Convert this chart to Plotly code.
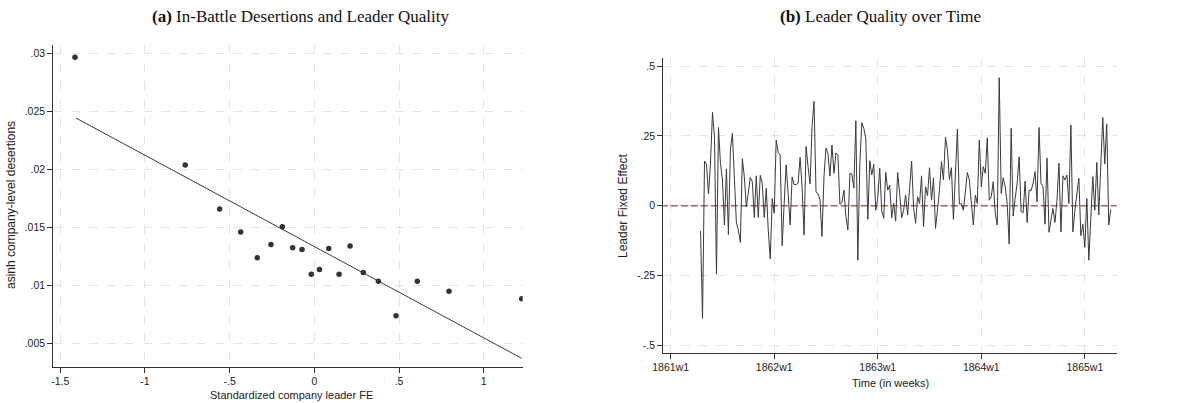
import plotly.graph_objects as go

# ---- Panel (a) data ----
fe_x = [-1.413, -0.762, -0.559, -0.435, -0.337, -0.256, -0.189, -0.128, -0.073, -0.018,
        0.030, 0.085, 0.146, 0.211, 0.289, 0.378, 0.482, 0.608, 0.795, 1.224]
desert_y = [0.02966, 0.02038, 0.0166, 0.01462, 0.0124, 0.01355, 0.01507, 0.01327, 0.01312, 0.01097,
            0.0114, 0.0132, 0.01097, 0.01341, 0.01114, 0.01037, 0.00741, 0.01037, 0.00951, 0.00888]
fit_x = [-1.407, 1.224]
fit_y = [0.02443, 0.00374]
a_xticks = [-1.5, -1, -0.5, 0, 0.5, 1]
a_xlabels = ["-1.5", "-1", "-.5", "0", ".5", "1"]
a_yticks = [0.005, 0.01, 0.015, 0.02, 0.025, 0.03]
a_ylabels = [".005", ".01", ".015", ".02", ".025", ".03"]

# ---- Panel (b) data ----
start_week = 15  # weeks since 1861w1
leader_fe = [
    -0.091, -0.403, 0.160, 0.149, 0.042, 0.152, 0.334, 0.247, -0.245, 0.280,
    0.152, 0.092, -0.069, 0.132, -0.103, 0.199, 0.259, 0.092, -0.061, -0.087,
    -0.131, 0.168, 0.104, -0.004, 0.056, 0.101, 0.086, -0.042, 0.107, -0.042,
    0.109, 0.080, -0.042, 0.062, -0.087, -0.190, 0.026, -0.027, 0.235, 0.191,
    0.181, -0.143, 0.008, 0.146, 0.044, -0.069, 0.103, 0.076, 0.076, 0.080,
    0.173, 0.068, -0.105, 0.212, 0.140, 0.078, 0.283, 0.374, 0.049, 0.043,
    0.020, -0.110, 0.104, 0.206, 0.187, 0.106, 0.217, 0.116, 0.189, 0.181,
    0.005, 0.011, 0.056, -0.039, -0.087, 0.116, 0.113, 0.063, 0.304, -0.195,
    0.152, 0.297, 0.277, 0.240, -0.049, 0.161, 0.110, 0.148, -0.016, 0.026,
    0.134, -0.019, -0.045, 0.119, 0.056, 0.074, -0.043, 0.008, -0.055, 0.119,
    0.044, -0.043, -0.016, 0.038, -0.033, 0.068, 0.160, -0.007, -0.063, 0.032,
    0.008, 0.107, -0.075, 0.068, 0.036, 0.136, 0.020, 0.100, -0.081, -0.016,
    0.056, 0.158, 0.092, 0.245, 0.199, 0.094, 0.136, -0.049, 0.104, 0.274,
    0.006, 0.008, -0.016, 0.056, 0.119, 0.092, 0.008, -0.069, 0.038, 0.008,
    0.235, 0.068, 0.140, 0.116, 0.243, 0.020, 0.032, 0.086, -0.027, -0.069,
    0.458, 0.044, 0.100, 0.068, 0.008, -0.137, 0.277, -0.037, 0.026, 0.080,
    0.175, -0.021, -0.025, 0.088, -0.060, 0.056, 0.054, 0.080, 0.122, 0.014,
    0.280, 0.080, 0.068, -0.066, 0.171, -0.095, -0.051, -0.010, -0.060, 0.020,
    0.152, -0.094, 0.107, 0.092, 0.110, 0.008, 0.289, -0.094, -0.016, 0.044,
    0.098, -0.107, -0.066, -0.149, 0.026, -0.195, -0.039, 0.104, -0.016, 0.155,
    -0.033, 0.169, 0.316, 0.149, 0.292, -0.069, -0.013,
]
weeks = list(range(start_week, start_week + len(leader_fe)))
b_xticks = [0, 52, 104, 156, 208]
b_xlabels = ["1861w1", "1862w1", "1863w1", "1864w1", "1865w1"]
b_yticks = [-0.5, -0.25, 0, 0.25, 0.5]
b_ylabels = ["-.5", "-.25", "0", ".25", ".5"]

W, H = 1203, 403
def xd(a, b):
    return [a / W, b / W]
def yd(top, bottom):
    return [1 - bottom / H, 1 - top / H]
def px(x):
    return x / W
def py(y):
    return 1 - y / H

axis_col = "#333333"
grid_col = "#e4e4e4"
tickfont = dict(family="Liberation Sans, Arial", size=10.5, color="#222")
titlefont = dict(family="Liberation Sans, Arial", size=11, color="#222")
vtitlefont = dict(family="Liberation Sans, Arial", size=12, color="#222")
headfont = dict(family="Liberation Serif, Times New Roman", size=17, color="#111")

fig = go.Figure()
fig.add_trace(go.Scatter(x=fit_x, y=fit_y, mode="lines", line=dict(color="#3a3a3a", width=1),
                         xaxis="x", yaxis="y", showlegend=False))
fig.add_trace(go.Scatter(x=fe_x, y=desert_y, mode="markers",
                         marker=dict(color="#333333", size=5.5), xaxis="x", yaxis="y", showlegend=False))
fig.add_trace(go.Scatter(x=[-10, 400], y=[0, 0], mode="lines",
                         line=dict(color="#a8605c", width=1.4, dash="7px,3px"),
                         xaxis="x2", yaxis="y2", showlegend=False))
fig.add_trace(go.Scatter(x=weeks, y=leader_fe, mode="lines", line=dict(color="#3a3a3a", width=1),
                         xaxis="x2", yaxis="y2", showlegend=False))

common = dict(showline=True, linecolor=axis_col, linewidth=1.2, ticks="outside", ticklen=5,
              tickcolor=axis_col, tickfont=tickfont, showgrid=True, gridcolor=grid_col,
              griddash="dash", gridwidth=1, zeroline=False, mirror=False, automargin=False)

def ann(text, x, y, font, angle=0):
    return dict(text=text, x=px(x), y=py(y), xref="paper", yref="paper", showarrow=False,
                xanchor="center", yanchor="middle", font=font, textangle=angle)

fig.update_layout(
    template="none",
    width=W, height=H, margin=dict(l=0, r=0, t=0, b=0),
    paper_bgcolor="white", plot_bgcolor="white",
    xaxis=dict(domain=xd(53.3, 522.7), range=[-1.541, 1.23], anchor="y",
               tickvals=a_xticks, ticktext=a_xlabels, **common),
    yaxis=dict(domain=yd(45, 366.7), range=[0.00302, 0.03072], anchor="x",
               tickvals=a_yticks, ticktext=a_ylabels, **common),
    xaxis2=dict(domain=xd(663.3, 1116.7), range=[-3.7, 224], anchor="y2",
                tickvals=b_xticks, ticktext=b_xlabels, **common),
    yaxis2=dict(domain=yd(58.3, 352.7), range=[-0.526, 0.5276], anchor="x2",
                tickvals=b_yticks, ticktext=b_ylabels, **common),
    annotations=[
        ann("<b>(a)</b> In-Battle Desertions and Leader Quality", 300, 16, headfont),
        ann("<b>(b)</b> Leader Quality over Time", 880, 16, headfont),
        ann("Standardized company leader FE", 291, 395, titlefont),
        ann("asinh company-level desertions", 11, 205, vtitlefont, -90),
        ann("Time (in weeks)", 890, 383, titlefont),
        ann("Leader Fixed Effect", 623, 206, vtitlefont, -90),
    ],
)

fig.write_html("out.html")
